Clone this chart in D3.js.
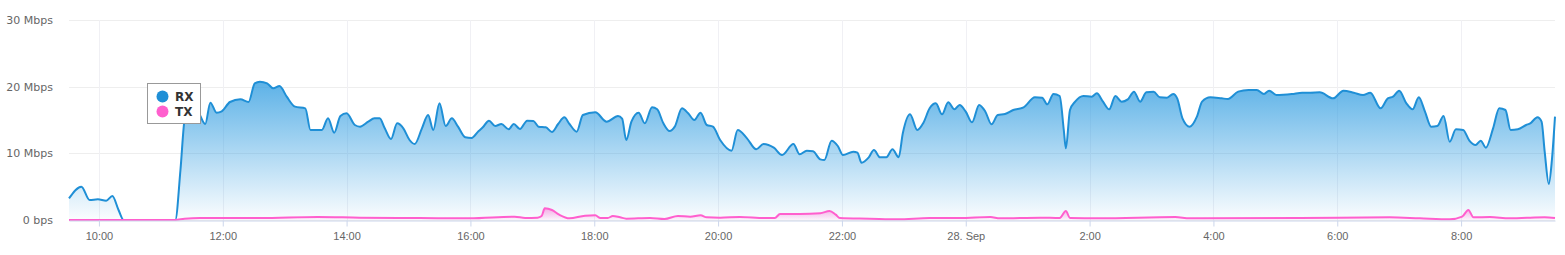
<!DOCTYPE html>
<html>
<head>
<meta charset="utf-8">
<script src="https://cdn.jsdelivr.net/npm/d3@7"></script>
<style>
  body { margin: 0; background: #fff; }
  svg { display: block; font-family: "DejaVu Sans", Verdana, sans-serif; }
</style>
</head>
<body>
<div class="display"></div>
<script>
// RX samples (time, Mbps)
var rxTimes = ["09-27 09:31","09-27 09:43","09-27 09:51","09-27 09:59","09-27 10:07","09-27 10:13","09-27 10:19","09-27 10:24",
  "09-27 11:14","09-27 11:19","09-27 11:23","09-27 11:28","09-27 11:35","09-27 11:43","09-27 11:48","09-27 11:54","09-27 11:59",
  "09-27 12:07","09-27 12:17","09-27 12:25","09-27 12:31","09-27 12:36","09-27 12:43","09-27 12:49","09-27 12:55","09-27 13:02",
  "09-27 13:10","09-27 13:20","09-27 13:25","09-27 13:36","09-27 13:42","09-27 13:48","09-27 13:54","09-27 14:00","09-27 14:08",
  "09-27 14:13","09-27 14:21","09-27 14:27","09-27 14:32","09-27 14:37","09-27 14:43","09-27 14:49","09-27 14:55","09-27 15:01",
  "09-27 15:06","09-27 15:13","09-27 15:19","09-27 15:24","09-27 15:30","09-27 15:36","09-27 15:42","09-27 15:48","09-27 15:55",
  "09-27 16:01","09-27 16:08","09-27 16:12","09-27 16:18","09-27 16:24","09-27 16:30","09-27 16:37","09-27 16:42","09-27 16:48",
  "09-27 16:55","09-27 17:01","09-27 17:06","09-27 17:13","09-27 17:19","09-27 17:25","09-27 17:31","09-27 17:36","09-27 17:43",
  "09-27 17:49","09-27 18:01","09-27 18:12","09-27 18:23","09-27 18:27","09-27 18:31","09-27 18:36","09-27 18:43","09-27 18:49",
  "09-27 18:56","09-27 19:01","09-27 19:07","09-27 19:13","09-27 19:18","09-27 19:25","09-27 19:31","09-27 19:37","09-27 19:43",
  "09-27 19:49","09-27 19:55","09-27 20:02","09-27 20:13","09-27 20:19","09-27 20:28","09-27 20:37","09-27 20:44","09-27 20:54",
  "09-27 21:02","09-27 21:13","09-27 21:19","09-27 21:26","09-27 21:32","09-27 21:39","09-27 21:43","09-27 21:50","09-27 21:56",
  "09-27 22:01","09-27 22:11","09-27 22:15","09-27 22:19","09-27 22:26","09-27 22:31","09-27 22:37","09-27 22:43","09-27 22:49",
  "09-27 22:55","09-27 22:59","09-27 23:06","09-27 23:13","09-27 23:19","09-27 23:25","09-27 23:31","09-27 23:37","09-27 23:43",
  "09-27 23:49","09-27 23:54","09-28 00:00","09-28 00:06","09-28 00:13","09-28 00:19","09-28 00:25","09-28 00:31","09-28 00:38",
  "09-28 00:46","09-28 00:56","09-28 01:07","09-28 01:14","09-28 01:19","09-28 01:25","09-28 01:31","09-28 01:35","09-28 01:37",
  "09-28 01:41","09-28 01:46","09-28 01:54","09-28 02:02","09-28 02:07","09-28 02:13","09-28 02:19","09-28 02:25","09-28 02:31",
  "09-28 02:37","09-28 02:43","09-28 02:49","09-28 02:55","09-28 03:02","09-28 03:08","09-28 03:15","09-28 03:21","09-28 03:25",
  "09-28 03:30","09-28 03:37","09-28 03:44","09-28 03:49","09-28 03:57","09-28 04:08","09-28 04:14","09-28 04:24","09-28 04:34",
  "09-28 04:42","09-28 04:49","09-28 04:54","09-28 05:01","09-28 05:16","09-28 05:26","09-28 05:34","09-28 05:43","09-28 05:56",
  "09-28 06:06","09-28 06:16","09-28 06:25","09-28 06:32","09-28 06:42","09-28 06:49","09-28 06:54","09-28 07:00","09-28 07:07",
  "09-28 07:13","09-28 07:19","09-28 07:25","09-28 07:31","09-28 07:37","09-28 07:43","09-28 07:49","09-28 07:55","09-28 08:02",
  "09-28 08:08","09-28 08:14","09-28 08:19","09-28 08:24","09-28 08:31","09-28 08:37","09-28 08:43","09-28 08:48","09-28 08:55",
  "09-28 09:03","09-28 09:07","09-28 09:14","09-28 09:18","09-28 09:21","09-28 09:25","09-28 09:28","09-28 09:31"];
var rxValues = [3.25,5.0,3.0,3.1,2.9,3.6,1.5,0,
  0,7.5,15,16.8,16.5,14.4,17.6,16.1,16.3,
  17.7,18.1,17.7,20.5,20.75,20.5,19.75,20.1,18.5,
  17,16.75,13.5,13.5,15.25,13.1,15.6,16.0,14.25,
  14.0,14.75,15.25,15.25,13.75,12.15,14.5,13.75,12.0,
  11.4,13.75,15.75,13.5,17.5,14.1,15.25,14.0,12.4,
  12.3,13.35,13.9,14.9,14.1,14.4,13.6,14.4,13.65,
  14.9,14.85,14.0,13.9,13.2,14.4,15.4,14.4,13.25,
  15.75,16.15,14.75,15.6,15.2,12.0,14.75,16.1,14.5,
  16.9,16.6,14.5,13.35,14.0,16.75,16.0,15.0,16.1,
  14.25,14.0,12.0,10.4,13.5,12.25,10.6,11.4,10.85,
  9.75,11.4,9.85,10.4,10.3,9.1,9.0,11.9,11.1,
  9.75,10.25,10.1,8.6,9.4,10.5,9.4,9.4,10.6,
  9.4,13.0,15.85,13.5,14.6,16.75,17.5,15.85,17.65,
  16.6,17.25,16.25,14.65,17.25,16.25,14.35,15.75,15.9,
  16.5,16.9,18.4,18.35,17.35,18.9,18.6,13.5,10.75,
  16.5,17.75,18.6,18.5,19.0,17.75,16.6,18.6,17.75,
  18.1,19.25,17.75,19.15,19.25,18.4,18.35,18.9,18.2,
  15.25,14.0,15.5,17.75,18.4,18.25,18.15,19.25,19.5,
  19.5,18.9,19.4,18.75,18.9,19.1,19.1,19.15,18.25,
  19.4,19.1,18.75,19.1,16.75,18.25,18.5,19.4,17.5,
  16.6,18.4,16.25,14.0,14.1,15.6,11.75,13.6,13.5,
  11.9,11.25,11.9,10.85,13.75,16.75,16.5,13.5,13.6,
  14.25,14.5,15.4,14.75,10.25,5.4,9.0,15.5];

// TX samples (time, Mbps)
var txTimes = ["09-27 09:31","09-27 11:14","09-27 11:23","09-27 11:38","09-27 12:36","09-27 13:32","09-27 14:13","09-27 15:11",
  "09-27 15:59","09-27 16:43","09-27 16:53","09-27 17:05","09-27 17:09","09-27 17:12","09-27 17:19","09-27 17:26","09-27 17:36",
  "09-27 17:51","09-27 18:01","09-27 18:06","09-27 18:13","09-27 18:18","09-27 18:25","09-27 18:31","09-27 18:54","09-27 19:08",
  "09-27 19:21","09-27 19:33","09-27 19:43","09-27 19:49","09-27 20:02","09-27 20:21","09-27 20:45","09-27 20:55","09-27 21:00",
  "09-27 21:19","09-27 21:39","09-27 21:48","09-27 21:54","09-27 21:58","09-27 22:27","09-27 22:54","09-27 23:25","09-27 23:54",
  "09-28 00:24","09-28 00:33","09-28 01:12","09-28 01:31","09-28 01:37","09-28 01:41","09-28 02:10","09-28 03:23","09-28 03:37",
  "09-28 05:24","09-28 06:51","09-28 07:20","09-28 07:49","09-28 08:01","09-28 08:07","09-28 08:12","09-28 08:28","09-28 08:47",
  "09-28 09:21","09-28 09:31"];
var txValues = [0,0,0.2,0.3,0.3,0.45,0.35,0.3,
  0.25,0.5,0.3,0.35,0.6,1.75,1.5,0.8,0.25,
  0.65,0.7,0.3,0.3,0.6,0.4,0.2,0.3,0.15,
  0.6,0.5,0.7,0.4,0.35,0.45,0.3,0.3,0.9,
  0.9,1.0,1.35,0.8,0.3,0.2,0.1,0.3,0.3,
  0.45,0.25,0.35,0.3,1.35,0.3,0.25,0.45,0.25,
  0.3,0.4,0.25,0.1,0.5,1.5,0.4,0.45,0.25,
  0.4,0.3];

var yTicks = [0, 10, 20, 30];
var yTickLabels = ["0 bps", "10 Mbps", "20 Mbps", "30 Mbps"];
var seriesNames = ["RX", "TX"];
var seriesColors = ["#1f8fd6", "#ff5fce"];

var width = 1565, height = 255;
var margin = { top: 20, right: 10, bottom: 35, left: 69 };
var parseTime = d3.timeParse("%m-%d %H:%M");

var rx = rxTimes.map(function(t, i) { return { date: parseTime(t), value: rxValues[i] }; });
var tx = txTimes.map(function(t, i) { return { date: parseTime(t), value: txValues[i] }; });

var svg = d3.select(".display")
  .append("svg")
  .attr("width", width)
  .attr("height", height);

var x = d3.scaleTime()
  .domain([parseTime("09-27 09:31"), parseTime("09-28 09:31")])
  .range([margin.left, width - margin.right]);

var y = d3.scaleLinear()
  .domain([0, 30])
  .range([height - margin.bottom, margin.top]);

var defs = svg.append("defs");
function addGradient(id, color, topOpacity) {
  var g = defs.append("linearGradient")
    .attr("id", id)
    .attr("gradientUnits", "userSpaceOnUse")
    .attr("x1", 0).attr("x2", 0)
    .attr("y1", y(22)).attr("y2", y(0));
  g.append("stop").attr("offset", "0%").attr("stop-color", color).attr("stop-opacity", topOpacity);
  g.append("stop").attr("offset", "100%").attr("stop-color", color).attr("stop-opacity", 0.02);
}
addGradient("rxFill", "#2d9be0", 0.82);
var txGrad = defs.append("linearGradient")
  .attr("id", "txFill")
  .attr("gradientUnits", "userSpaceOnUse")
  .attr("x1", 0).attr("x2", 0)
  .attr("y1", y(2)).attr("y2", y(0));
txGrad.append("stop").attr("offset", "0%").attr("stop-color", "#ff5fce").attr("stop-opacity", 0.55);
txGrad.append("stop").attr("offset", "100%").attr("stop-color", "#ff5fce").attr("stop-opacity", 0.05);

// horizontal grid
svg.append("g")
  .selectAll("line")
  .data(yTicks)
  .enter().append("line")
  .attr("x1", margin.left)
  .attr("x2", width - margin.right)
  .attr("y1", function(d) { return Math.round(y(d)) + 0.5; })
  .attr("y2", function(d) { return Math.round(y(d)) + 0.5; })
  .attr("stroke", "#eeeeee");

var xTicks = x.ticks(d3.timeHour.every(2));

// vertical grid
svg.append("g")
  .selectAll("line")
  .data(xTicks)
  .enter().append("line")
  .attr("x1", function(d) { return Math.round(x(d)) + 0.5; })
  .attr("x2", function(d) { return Math.round(x(d)) + 0.5; })
  .attr("y1", margin.top)
  .attr("y2", y(0))
  .attr("stroke", "#f0f0f4");

var area = d3.area()
  .x(function(d) { return x(d.date); })
  .y0(y(0))
  .y1(function(d) { return y(d.value); })
  .curve(d3.curveMonotoneX);

var line = d3.line()
  .x(function(d) { return x(d.date); })
  .y(function(d) { return y(d.value); })
  .curve(d3.curveMonotoneX);

svg.append("path").datum(rx).attr("d", area).attr("fill", "url(#rxFill)");
svg.append("path").datum(rx).attr("d", line)
  .attr("fill", "none").attr("stroke", seriesColors[0]).attr("stroke-width", 2).attr("stroke-linejoin", "round");

svg.append("path").datum(tx).attr("d", area).attr("fill", "url(#txFill)");
svg.append("path").datum(tx).attr("d", line)
  .attr("fill", "none").attr("stroke", seriesColors[1]).attr("stroke-width", 2).attr("stroke-linejoin", "round");

// x axis
var fmt = function(d) {
  if (d.getHours() === 0) return d3.timeFormat("%-d. %b")(d);
  return d3.timeFormat("%-H:%M")(d);
};
var xAxis = svg.append("g")
  .attr("transform", "translate(0," + (Math.round(y(0)) + 0.5) + ")")
  .call(d3.axisBottom(x).tickValues(xTicks).tickFormat(fmt).tickSizeInner(6).tickSizeOuter(0).tickPadding(6));
xAxis.select(".domain").attr("stroke", "#ccd6eb");
xAxis.selectAll(".tick line").attr("stroke", "#ccd6eb");
xAxis.selectAll(".tick text").attr("fill", "#666").attr("font-size", "11px");

// y axis labels
svg.append("g")
  .selectAll("text")
  .data(yTicks)
  .enter().append("text")
  .attr("x", 53)
  .attr("y", function(d) { return y(d) + 4; })
  .attr("text-anchor", "end")
  .attr("fill", "#666")
  .attr("font-size", "11px")
  .text(function(d, i) { return yTickLabels[i]; });

// legend
var legend = svg.append("g").attr("transform", "translate(147,83)");
legend.append("rect")
  .attr("x", 0.5).attr("y", 0.5)
  .attr("width", 53).attr("height", 40)
  .attr("fill", "#fff").attr("stroke", "#999");
legend.selectAll("circle")
  .data(seriesNames)
  .enter().append("circle")
  .attr("cx", 15.5)
  .attr("cy", function(d, i) { return 13.5 + i * 15; })
  .attr("r", 6)
  .attr("fill", function(d, i) { return seriesColors[i]; });
legend.selectAll("text")
  .data(seriesNames)
  .enter().append("text")
  .attr("x", 28)
  .attr("y", function(d, i) { return 18 + i * 15; })
  .attr("font-size", "12px")
  .attr("font-weight", "bold")
  .attr("fill", "#333")
  .text(function(d) { return d; });
</script>
</body>
</html>
